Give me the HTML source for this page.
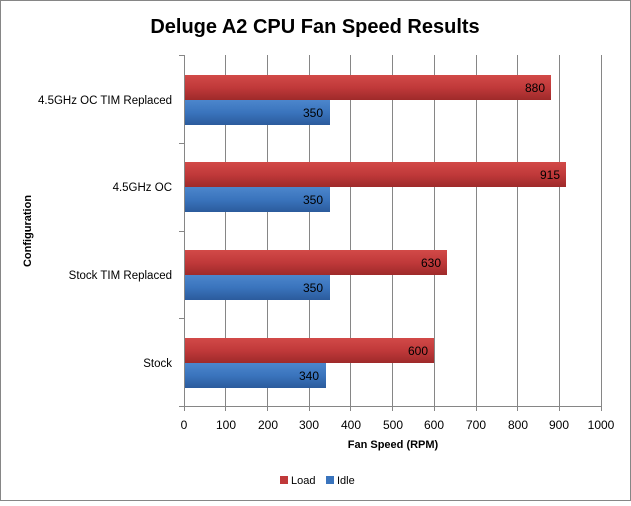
<!DOCTYPE html>
<html><head><style>body{margin:0;background:#fff}</style></head><body>
<svg width="631" height="501" xmlns="http://www.w3.org/2000/svg" font-family="Liberation Sans, sans-serif">
<defs>
<linearGradient id="r" x1="0" y1="0" x2="0" y2="1"><stop offset="0" stop-color="#d24a48"/><stop offset="0.5" stop-color="#c0393a"/><stop offset="1" stop-color="#9e2a2a"/></linearGradient>
<linearGradient id="b" x1="0" y1="0" x2="0" y2="1"><stop offset="0" stop-color="#4c86cc"/><stop offset="0.5" stop-color="#3a74bd"/><stop offset="1" stop-color="#2b5b9c"/></linearGradient>
</defs>
<rect x="0.5" y="0.5" width="630" height="500" fill="#fff" stroke="#868686"/>
<text x="315" y="33" text-anchor="middle" font-size="20" font-weight="bold" fill="#000">Deluge A2 CPU Fan Speed Results</text>
<g stroke="#868686" stroke-width="1">
<line x1="225.5" y1="55" x2="225.5" y2="411"/><line x1="267.5" y1="55" x2="267.5" y2="411"/><line x1="309.5" y1="55" x2="309.5" y2="411"/><line x1="350.5" y1="55" x2="350.5" y2="411"/><line x1="392.5" y1="55" x2="392.5" y2="411"/><line x1="434.5" y1="55" x2="434.5" y2="411"/><line x1="476.5" y1="55" x2="476.5" y2="411"/><line x1="517.5" y1="55" x2="517.5" y2="411"/><line x1="559.5" y1="55" x2="559.5" y2="411"/><line x1="601.5" y1="55" x2="601.5" y2="411"/>
<line x1="184.5" y1="55" x2="184.5" y2="411"/>
<line x1="179" y1="406.5" x2="601" y2="406.5"/>
<line x1="179" y1="55.5" x2="184" y2="55.5"/><line x1="179" y1="143.5" x2="184" y2="143.5"/><line x1="179" y1="231.5" x2="184" y2="231.5"/><line x1="179" y1="318.5" x2="184" y2="318.5"/>
</g>
<g>
<rect x="185" y="75" width="366" height="25" fill="url(#r)"/><rect x="185" y="100" width="145" height="25" fill="url(#b)"/>
<rect x="185" y="162" width="381" height="25" fill="url(#r)"/><rect x="185" y="187" width="145" height="25" fill="url(#b)"/>
<rect x="185" y="250" width="262" height="25" fill="url(#r)"/><rect x="185" y="275" width="145" height="25" fill="url(#b)"/>
<rect x="185" y="338" width="249" height="25" fill="url(#r)"/><rect x="185" y="363" width="141" height="25" fill="url(#b)"/>
</g>
<g font-size="12" fill="#000" text-anchor="end">
<text x="545" y="92">880</text><text x="323" y="117">350</text>
<text x="560" y="179">915</text><text x="323" y="204">350</text>
<text x="441" y="267">630</text><text x="323" y="292">350</text>
<text x="428" y="355">600</text><text x="319" y="380">340</text>
</g>
<g font-size="11.5" fill="#000" text-anchor="end">
<text x="172" y="104">4.5GHz OC TIM Replaced</text>
<text x="172" y="191">4.5GHz OC</text>
<text x="172" y="279">Stock TIM Replaced</text>
<text x="172" y="367">Stock</text>
</g>
<g font-size="12" fill="#000" text-anchor="middle">
<text x="184" y="429">0</text><text x="226" y="429">100</text><text x="268" y="429">200</text><text x="309" y="429">300</text><text x="351" y="429">400</text><text x="393" y="429">500</text><text x="434" y="429">600</text><text x="476" y="429">700</text><text x="518" y="429">800</text><text x="559" y="429">900</text><text x="601" y="429">1000</text>
</g>
<text x="393" y="448" text-anchor="middle" font-size="11" font-weight="bold">Fan Speed (RPM)</text>
<text transform="translate(31,231) rotate(-90)" text-anchor="middle" font-size="11" font-weight="bold">Configuration</text>
<rect x="280" y="476" width="8" height="8" fill="#c0393a"/><text x="291" y="484" font-size="11">Load</text>
<rect x="326" y="476" width="8" height="8" fill="#3a74bd"/><text x="337" y="484" font-size="11">Idle</text>
</svg>
</body></html>
